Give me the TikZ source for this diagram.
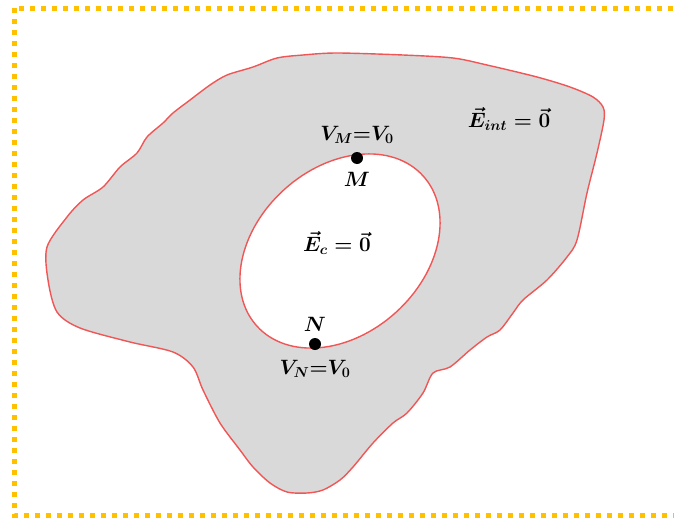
\documentclass[tikz,border=0pt]{standalone}
\usetikzlibrary{positioning,shapes.geometric}
\definecolor{framegold}{HTML}{FFC000}
\definecolor{rimred}{HTML}{F05656}
\definecolor{metalgray}{HTML}{D9D9D9}

\begin{document}
\begin{tikzpicture}[
x=1pt, y=-1pt,
node distance=6pt,
framebox/.style={draw=framegold, line width=5pt, dash pattern=on 5pt off 6pt},
conductor/.style={draw=rimred, line width=1.4pt, fill=metalgray},
cavityrim/.style={ellipse, draw=rimred, line width=1.4pt, fill=white, inner sep=0pt},
pointdot/.style={circle, fill=black, inner sep=0pt, minimum size=12pt},
lbl/.style={inner sep=0pt, font=\fontsize{20}{24}\selectfont\boldmath},
fieldlbl/.style={inner sep=0pt, font=\fontsize{22}{26}\selectfont\boldmath}
]
\clip (0,0) rectangle (674,522);
\draw[framebox] (14,8) rectangle (700,515);

\draw[conductor] plot[smooth cycle, tension=0.5] coordinates {
(47,247) (48,280) (57,312) (80,328) (130,342) (173,352) (193,367) (203,390)
(220,423) (240,450) (253,467) (270,483) (287,492) (307,493) (323,490) (340,480)
(353,467) (373,443) (393,423) (407,413) (423,393) (433,373) (450,367) (470,350)
(487,337) (500,330) (513,313) (523,300) (547,280) (567,257) (577,240) (587,193)
(597,153) (604,120) (603,107) (593,97) (570,87) (537,77) (487,65) (453,58)
(403,55) (337,53) (303,55) (277,58) (253,67) (227,75) (210,85) (190,100)
(173,113) (163,123) (147,137) (137,153) (120,167) (103,187) (83,200) (67,217)};

\node[cavityrim, minimum width=224pt, minimum height=166pt, rotate=42] (cavity) at (340,251) {};

\node[pointdot] (ptM) at (357,158) {};
\node[pointdot] (ptN) at (315,344) {};

\node[lbl, above=of ptM, yshift=2pt] (potM) {$V_M{=}V_0$};
\node[lbl, below=of ptM, yshift=-2pt] (nameM) {$M$};
\node[lbl, above=of ptN] (nameN) {$N$};
\node[lbl, below=of ptN, yshift=-4pt] (potN) {$V_N{=}V_0$};
\node[fieldlbl] (fieldC) at (337,243) {$\vec{E}_c=\vec{0}$};
\node[fieldlbl] (fieldInt) at (509,119) {$\vec{E}_{int}=\vec{0}$};
\end{tikzpicture}
\end{document}
